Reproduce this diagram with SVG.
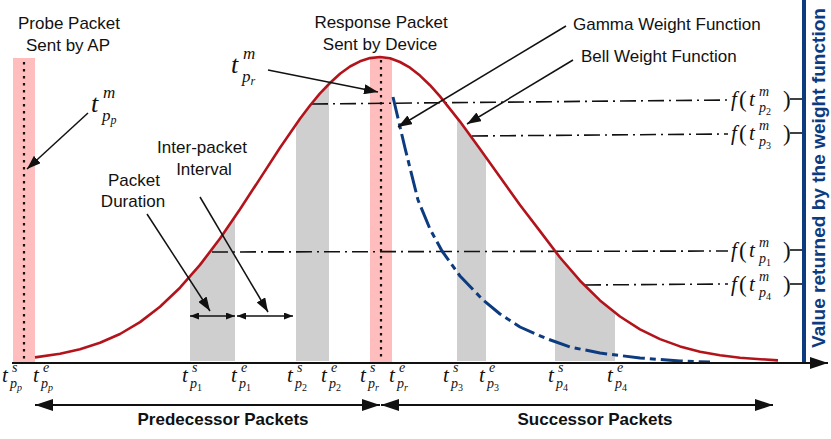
<svg xmlns="http://www.w3.org/2000/svg" width="831" height="439" viewBox="0 0 831 439">
<defs>
<style>
.lbl{font-family:"Liberation Sans",Arial,sans-serif;font-size:17px;fill:#111}
.bold{font-weight:bold}
.m{font-family:"Liberation Serif","Times New Roman",serif;font-style:italic;font-size:21px;fill:#111}
.sup,.sub{font-size:14px}
.ss{font-size:10px}
.up{font-style:normal}
.big{font-size:23px}
.fl{stroke:#111;stroke-width:1.6;stroke-dasharray:16 5 2 5;fill:none}
.pink{fill:#ffbdbd}
.gray{fill:#cfcfcf}
.dots{stroke:#111;stroke-width:2.2;stroke-dasharray:2.5 4.5;fill:none}
.leader{stroke:#111;stroke-width:1.5;fill:none}
.tick{stroke:#111;stroke-width:1.6}
</style>
<marker id="ah" viewBox="0 0 14 10" refX="14" refY="5" markerWidth="14" markerHeight="10" markerUnits="userSpaceOnUse" orient="auto"><path d="M0,0 L14,5 L0,10 Z" fill="#111"/></marker>
<marker id="ahs" viewBox="0 0 9 7" refX="9" refY="3.5" markerWidth="9" markerHeight="7" markerUnits="userSpaceOnUse" orient="auto-start-reverse"><path d="M0,0 L9,3.5 L0,7 Z" fill="#111"/></marker>
<marker id="ahb" viewBox="0 0 18 12" refX="18" refY="6" markerWidth="18" markerHeight="12" markerUnits="userSpaceOnUse" orient="auto-start-reverse"><path d="M0,0 L18,6 L0,12 Z" fill="#111"/></marker>
</defs>

<!-- packets -->
<g id="probe-packet">
<rect class="pink" x="13" y="58" width="22" height="304"/>
<line class="dots" x1="24" y1="62" x2="24" y2="360"/>
<text class="lbl" x="69" y="29" text-anchor="middle">Probe Packet</text>
<text class="lbl" x="68" y="51" text-anchor="middle">Sent by AP</text>
</g>
<g id="response-packet">
<rect class="pink" x="370" y="58" width="22" height="304"/>
<text class="lbl" x="381" y="28" text-anchor="middle">Response Packet</text>
<text class="lbl" x="380" y="50" text-anchor="middle">Sent by Device</text>
</g>
<g id="packet-p1"><path class="gray" d="M190,361 L190,276 L200,265 L212,249 L220,238.5 L235,217 L235,361 Z"/></g>
<g id="packet-p2"><path class="gray" d="M296,361 L296,124 L310,105.5 L320,93.4 L329,84 L329,361 Z"/></g>
<g id="packet-p3"><path class="gray" d="M457,361 L457,118 L470,135 L486,157 L486,361 Z"/></g>
<g id="packet-p4"><path class="gray" d="M555,361 L555,251 L570,269 L585,286 L600,300.4 L615,313 L615,361 Z"/></g>

<!-- weight value lines -->
<g id="value-lines">
<path class="fl" d="M312,104 L728,100"/>
<path class="fl" d="M472,136 L728,134"/>
<path class="fl" d="M212,252 L728,251"/>
<path class="fl" d="M585,285 L728,284"/>
<line class="tick" x1="790" y1="99" x2="804" y2="99"/>
<line class="tick" x1="790" y1="133" x2="804" y2="133"/>
<line class="tick" x1="790" y1="250" x2="804" y2="250"/>
<line class="tick" x1="790" y1="284" x2="804" y2="284"/>
</g>

<!-- bell weight function -->
<g id="bell-curve">
<path fill="none" stroke="#b3141c" stroke-width="2.6" stroke-linejoin="round" d="M35,357.4 L60,353.8 L80,349.3 L100,342.8 L120,334 L140,322.1 L160,306.8 L180,287.7 L200,264.9 L220,238.5 L240,209.3 L260,178.6 L280,147.7 L300,118.7 L310,105.5 L320,93.4 L330,83 L340,73.8 L350,66.5 L360,61.3 L370,58.1 L380,57 L390,58.2 L400,62 L410,67.7 L420,75.6 L430,85.2 L440,96.4 L460,121.6 L480,149 L500,177 L520,205 L540,231.1 L560,257.5 L580,280.7 L600,300.4 L620,316.5 L640,329.3 L660,339.1 L680,346.4 L700,351.7 L720,355.3 L740,357.8 L778,360.4"/>
</g>

<!-- gamma weight function -->
<g id="gamma-curve">
<path fill="none" stroke="#0d3b80" stroke-width="3" stroke-dasharray="22 5 6 5" stroke-linejoin="round" d="M393,97 L405,148 L418,200 L430,229 L442,251 L460,276 L483,300 L500,314 L520,327 L545,338 L570,347 L600,353 L640,358 L680,361 L710,362"/>
</g>

<line class="dots" x1="381" y1="60" x2="381" y2="360"/>

<!-- axes -->
<g id="axes">
<line x1="804" y1="0" x2="804" y2="363" stroke="#0d3b80" stroke-width="4"/>
<line x1="12" y1="363" x2="828" y2="363" stroke="#111" stroke-width="2" marker-end="url(#ahb)"/>
<text class="lbl bold" transform="translate(825,178) rotate(-90)" text-anchor="middle" style="fill:#0d3b80;font-size:19px" textLength="340" lengthAdjust="spacingAndGlyphs">Value returned by the weight function</text>
</g>

<!-- connectors -->
<g id="connectors">
<line class="leader" x1="88" y1="113" x2="27" y2="169" marker-end="url(#ah)"/>
<line class="leader" x1="268" y1="70" x2="378" y2="92" marker-end="url(#ah)"/>
<line class="leader" x1="566" y1="26" x2="398" y2="127" marker-end="url(#ah)"/>
<line class="leader" x1="573" y1="60" x2="467" y2="124" marker-end="url(#ah)"/>
<line class="leader" x1="147" y1="214" x2="210" y2="311" marker-end="url(#ah)"/>
<line class="leader" x1="200" y1="197" x2="268" y2="312" marker-end="url(#ah)"/>
<line class="leader" x1="190" y1="316" x2="235" y2="316" marker-start="url(#ahs)" marker-end="url(#ahs)"/>
<line class="leader" x1="237" y1="316" x2="293" y2="316" marker-start="url(#ahs)" marker-end="url(#ahs)"/>
<line x1="35" y1="405" x2="380" y2="405" stroke="#111" stroke-width="2" marker-start="url(#ahb)" marker-end="url(#ahb)"/>
<line x1="381" y1="405" x2="773" y2="405" stroke="#111" stroke-width="2" marker-start="url(#ahb)" marker-end="url(#ahb)"/>
</g>

<!-- annotation labels -->
<g id="labels">
<text class="lbl" x="134" y="186" text-anchor="middle">Packet</text>
<text class="lbl" x="133" y="207" text-anchor="middle">Duration</text>
<text class="lbl" x="202" y="153" text-anchor="middle">Inter-packet</text>
<text class="lbl" x="204" y="175" text-anchor="middle">Interval</text>
<text class="lbl" x="573" y="30">Gamma Weight Function</text>
<text class="lbl" x="581" y="62">Bell Weight Function</text>
<text class="lbl bold" x="223" y="425" text-anchor="middle">Predecessor Packets</text>
<text class="lbl bold" x="595" y="425" text-anchor="middle">Successor Packets</text>
</g>

<!-- math labels -->
<g id="math-top">
<text class="m" style="font-size:26px" x="91" y="112">t<tspan style="font-size:17px" x="103" y="98">m</tspan><tspan style="font-size:17px" x="102" y="121">p</tspan><tspan style="font-size:12px" y="124">p</tspan></text>
<text class="m" style="font-size:26px" x="231" y="73">t<tspan style="font-size:17px" x="243" y="59">m</tspan><tspan style="font-size:17px" x="242" y="82">p</tspan><tspan style="font-size:12px" y="85">r</tspan></text>
</g>

<g id="math-values">
<text class="m" x="731" y="106">f<tspan class="up big" x="739" y="107">(</tspan><tspan x="749" y="106">t</tspan><tspan class="sup" x="759" y="96">m</tspan><tspan class="sub" x="759" y="112">p</tspan><tspan class="ss up" y="115">2</tspan><tspan class="up big" x="783" y="107">)</tspan></text>
<text class="m" x="731" y="140">f<tspan class="up big" x="739" y="141">(</tspan><tspan x="749" y="140">t</tspan><tspan class="sup" x="759" y="130">m</tspan><tspan class="sub" x="759" y="146">p</tspan><tspan class="ss up" y="149">3</tspan><tspan class="up big" x="783" y="141">)</tspan></text>
<text class="m" x="731" y="257">f<tspan class="up big" x="739" y="258">(</tspan><tspan x="749" y="257">t</tspan><tspan class="sup" x="759" y="247">m</tspan><tspan class="sub" x="759" y="263">p</tspan><tspan class="ss up" y="266">1</tspan><tspan class="up big" x="783" y="258">)</tspan></text>
<text class="m" x="731" y="291">f<tspan class="up big" x="739" y="292">(</tspan><tspan x="749" y="291">t</tspan><tspan class="sup" x="759" y="281">m</tspan><tspan class="sub" x="759" y="297">p</tspan><tspan class="ss up" y="300">4</tspan><tspan class="up big" x="783" y="292">)</tspan></text>
</g>

<g id="math-times">
<text class="m" x="2" y="382">t<tspan class="sup" x="12" y="372">s</tspan><tspan class="sub" x="10" y="388">p</tspan><tspan class="ss" y="391">p</tspan></text>
<text class="m" x="33" y="382">t<tspan class="sup" x="43" y="372">e</tspan><tspan class="sub" x="41" y="388">p</tspan><tspan class="ss" y="391">p</tspan></text>
<text class="m" x="182" y="382">t<tspan class="sup" x="192" y="372">s</tspan><tspan class="sub" x="190" y="388">p</tspan><tspan class="ss up" y="391">1</tspan></text>
<text class="m" x="231" y="382">t<tspan class="sup" x="241" y="372">e</tspan><tspan class="sub" x="239" y="388">p</tspan><tspan class="ss up" y="391">1</tspan></text>
<text class="m" x="287" y="382">t<tspan class="sup" x="297" y="372">s</tspan><tspan class="sub" x="295" y="388">p</tspan><tspan class="ss up" y="391">2</tspan></text>
<text class="m" x="321" y="382">t<tspan class="sup" x="331" y="372">e</tspan><tspan class="sub" x="329" y="388">p</tspan><tspan class="ss up" y="391">2</tspan></text>
<text class="m" x="360" y="382">t<tspan class="sup" x="370" y="372">s</tspan><tspan class="sub" x="368" y="388">p</tspan><tspan class="ss" y="391">r</tspan></text>
<text class="m" x="389" y="382">t<tspan class="sup" x="399" y="372">e</tspan><tspan class="sub" x="397" y="388">p</tspan><tspan class="ss" y="391">r</tspan></text>
<text class="m" x="443" y="382">t<tspan class="sup" x="453" y="372">s</tspan><tspan class="sub" x="451" y="388">p</tspan><tspan class="ss up" y="391">3</tspan></text>
<text class="m" x="479" y="382">t<tspan class="sup" x="489" y="372">e</tspan><tspan class="sub" x="487" y="388">p</tspan><tspan class="ss up" y="391">3</tspan></text>
<text class="m" x="548" y="382">t<tspan class="sup" x="558" y="372">s</tspan><tspan class="sub" x="556" y="388">p</tspan><tspan class="ss up" y="391">4</tspan></text>
<text class="m" x="607" y="382">t<tspan class="sup" x="617" y="372">e</tspan><tspan class="sub" x="615" y="388">p</tspan><tspan class="ss up" y="391">4</tspan></text>
</g>
</svg>
